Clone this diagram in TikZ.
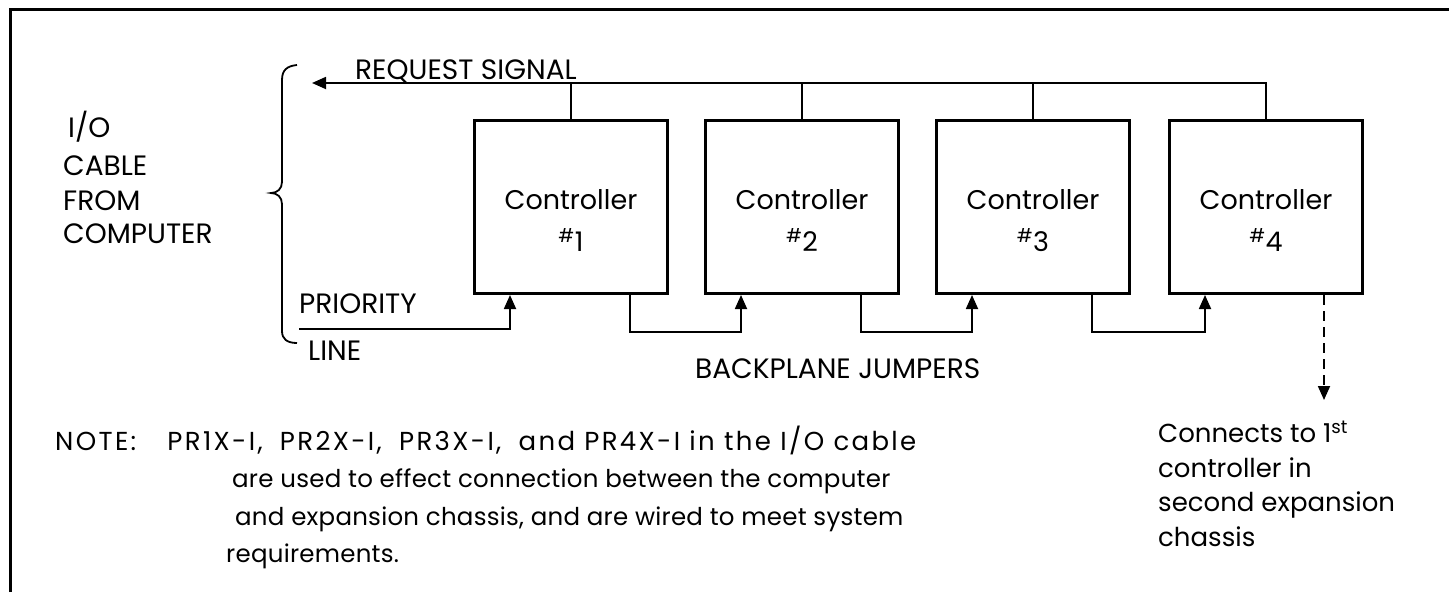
\documentclass[tikz,border=0pt]{standalone}
\usepackage{fontspec}
\setmainfont{Poppins}
\usetikzlibrary{arrows.meta}

\tikzset{
  box/.style={draw, line width=3pt, minimum width=193pt, minimum height=173pt, anchor=north west, inner sep=0pt},
  wire/.style={line width=1.8pt},
  sig/.style={wire, -{Triangle[length=14pt,width=12pt]}},
  lbl/.style={anchor=base west, inner sep=0pt, font=\fontsize{28}{34}\selectfont},
  ctrl/.style={align=center, inner sep=0pt, font=\fontsize{27}{42}\selectfont},
  note/.style={anchor=base west, inner sep=0pt, font=\fontsize{24.5}{34.5}\selectfont\addfontfeatures{LetterSpace=1}},
}

\begin{document}
\begin{tikzpicture}[x=1pt,y=-1pt]
\useasboundingbox[fill=white] (0,0) rectangle (1449,592);
%%%%%%%%% frame
\draw[line width=3pt] (10,592) -- (10,9) -- (1449,9);

%%%%%%%%% controllers
\node[box] (c1) at (473,119) {};
\node[box] (c2) at (704,119) {};
\node[box] (c3) at (935,119) {};
\node[box] (c4) at (1168,119) {};

\node[ctrl] (t1) at ([yshift=-14pt]c1.center) {Controller\\\textsuperscript{\#}1};
\node[ctrl] (t2) at ([yshift=-14pt]c2.center) {Controller\\\textsuperscript{\#}2};
\node[ctrl] (t3) at ([yshift=-14pt]c3.center) {Controller\\\textsuperscript{\#}3};
\node[ctrl] (t4) at ([yshift=-14pt]c4.center) {Controller\\\textsuperscript{\#}4};

%%%%%%%%% request signal
\coordinate (rq) at (312,83);
\draw[sig] (c4.north) -- (c4.north |- rq) -- (rq);
\draw[wire] (c1.north) -- (c1.north |- rq);
\draw[wire] (c2.north) -- (c2.north |- rq);
\draw[wire] (c3.north) -- (c3.north |- rq);
\node[lbl] (req) at (355,79) {REQUEST SIGNAL};

%%%%%%%%% cable brace
\draw[wire] (297,65) .. controls (287,66) and (282,70) .. (282,80)
  -- (282,182) .. controls (282,189) and (277,193) .. (271,193)
  .. controls (277,193) and (282,197) .. (282,204)
  -- (282,331) .. controls (282,339) and (287,343) .. (297,343);
\node[lbl] (io1) at (68,137) {I/O};
\node[lbl] (io2) at (63,175) {CABLE};
\node[lbl] (io3) at (63,210) {FROM};
\node[lbl] (io4) at (63,243) {COMPUTER};

%%%%%%%%% priority chain
\coordinate (pl) at (299,329);
\draw[sig] (pl) -| ([xshift=37pt]c1.south west);
\draw[sig] ([xshift=-39pt]c1.south east) -- ++(0,37) -| ([xshift=37pt]c2.south west);
\draw[sig] ([xshift=-39pt]c2.south east) -- ++(0,37) -| ([xshift=37pt]c3.south west);
\draw[sig] ([xshift=-39pt]c3.south east) -- ++(0,37) -| ([xshift=37pt]c4.south west);
\node[lbl] (pri) at (299,313) {PRIORITY};
\node[lbl] (lin) at (308,360) {LINE};
\node[lbl] (bpj) at (695,378) {BACKPLANE JUMPERS};

%%%%%%%%% next chassis
\coordinate (nx) at (1324,400);
\draw[sig, dash pattern=on 10pt off 6pt] (c4.south -| nx) -- (nx);
\node[note, font=\fontsize{26}{34.5}\selectfont, align=left, anchor=north west] (cn)
  at (1158,421) {Connects to 1\textsuperscript{st}\\controller in\\second expansion\\chassis};

%%%%%%%%% note
\node[note, font=\fontsize{26}{30}\selectfont\addfontfeatures{LetterSpace=9}] (n1) at (55,450)
  {NOTE:\hspace{22pt} PR1X-I,\hspace{8pt} PR2X-I,\hspace{8pt} PR3X-I,\hspace{8pt} and PR4X-I in the I/O cable};
\node[note] (n2) at (232,487) {are used to effect connection between the computer};
\node[note] (n3) at (235,525) {and expansion chassis, and are wired to meet system};
\node[note] (n4) at (226,562) {requirements.};
\end{tikzpicture}
\end{document}
